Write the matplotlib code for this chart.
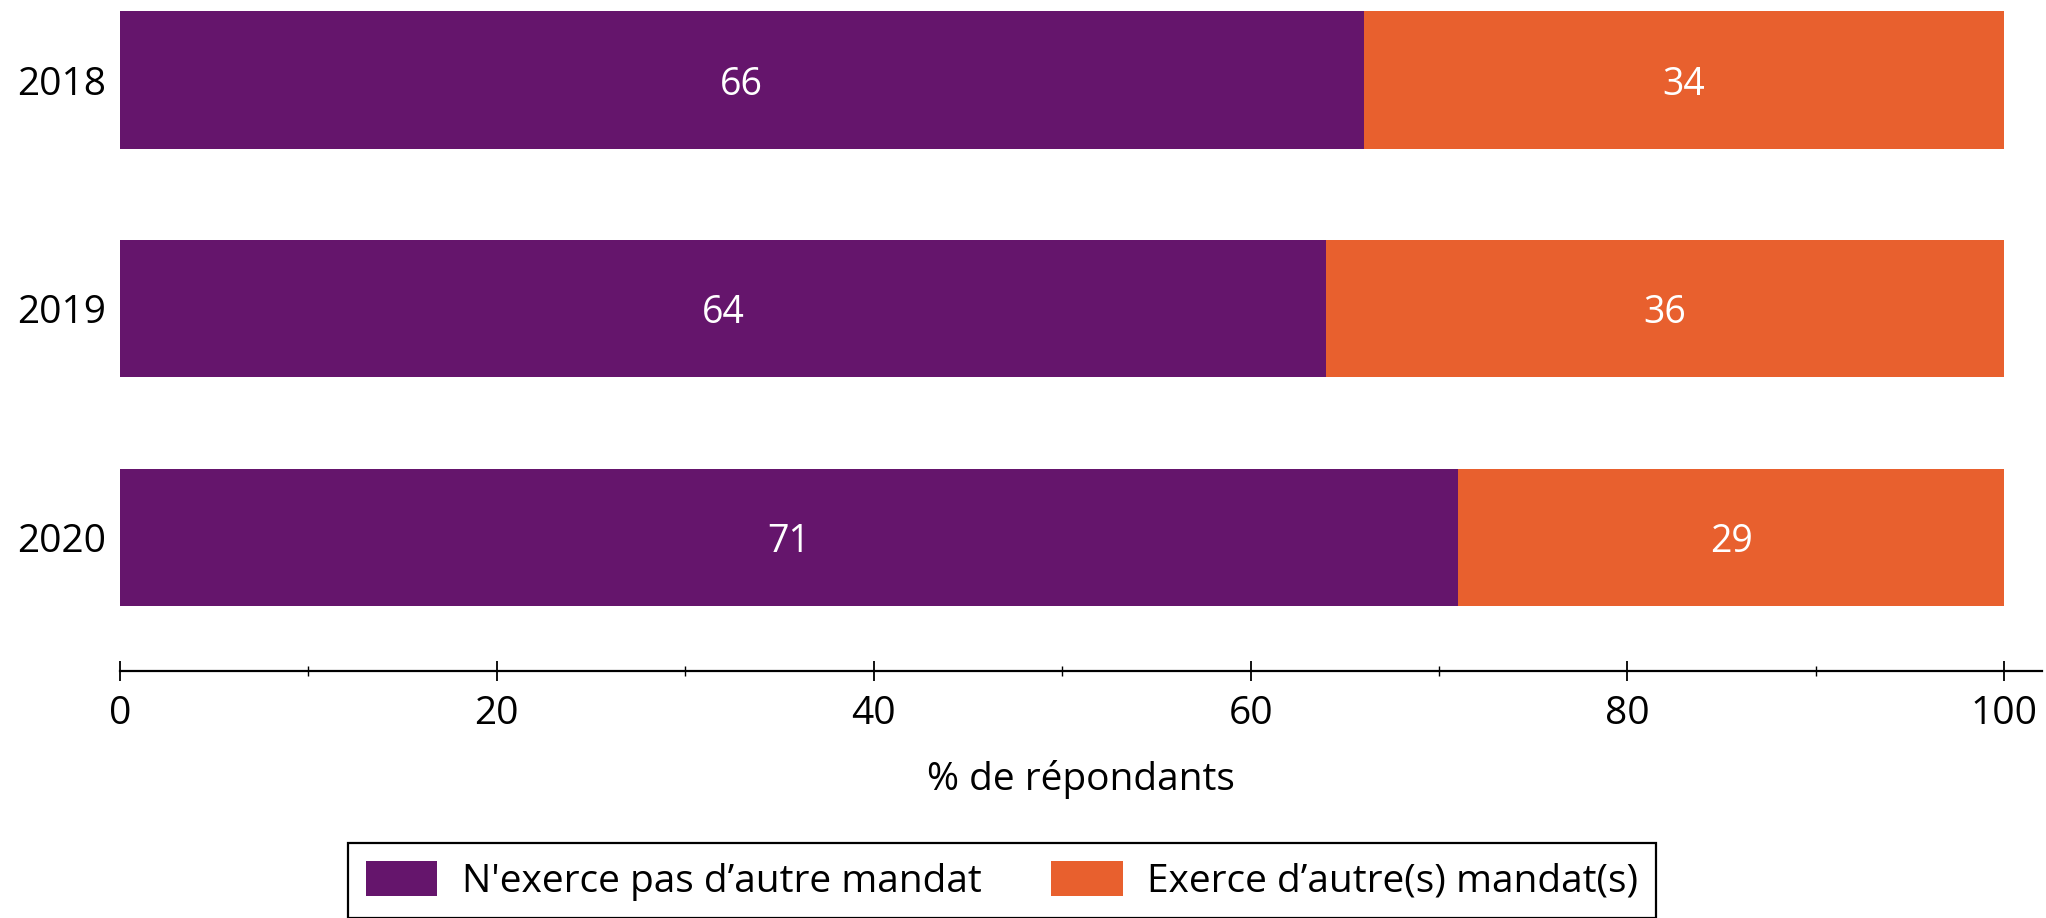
import matplotlib
matplotlib.use("Agg")
import matplotlib.pyplot as plt
from matplotlib.ticker import MultipleLocator
from matplotlib.patches import Patch

plt.rcParams["font.family"] = ["Open Sans", "DejaVu Sans"]

years = ["2018", "2019", "2020"]
sans_autre = [66, 64, 71]
avec_autre = [34, 36, 29]
series_labels = ["N'exerce pas d\u2019autre mandat", "Exerce d\u2019autre(s) mandat(s)"]
colors = ["#65156C", "#E8602E"]
x_ticks = [0, 20, 40, 60, 80, 100]

FS = 28

fig = plt.figure(figsize=(20.46, 9.18), dpi=100)
ax = fig.add_axes([120 / 2046, 1 - 671 / 918, (2042 - 120) / 2046, 671 / 918])

pos = list(range(len(years)))
bar_h = 0.6
b1 = ax.barh(pos, sans_autre, height=bar_h, color=colors[0], label=series_labels[0])
b2 = ax.barh(pos, avec_autre, left=sans_autre, height=bar_h, color=colors[1],
             label=series_labels[1])

for bars in (b1, b2):
    for rect, val in zip(bars, bars.datavalues):
        ax.text(rect.get_x() + rect.get_width() / 2, rect.get_y() + rect.get_height() / 2,
                f"{val:g}", ha="center", va="center_baseline", color="white",
                fontsize=FS - 1)

ax.set_xlim(0, 102)
ax.set_ylim(2.583, -0.35)
ax.set_yticks(pos)
ax.set_yticklabels(years)
ax.set_xticks(x_ticks)
ax.xaxis.set_minor_locator(MultipleLocator(10))

for s in ("top", "right", "left"):
    ax.spines[s].set_visible(False)
ax.spines["bottom"].set_linewidth(1.6)
ax.tick_params(axis="y", length=0, pad=10, labelsize=FS)
ax.tick_params(axis="x", which="major", direction="inout", length=14, width=1.3,
               pad=10, labelsize=FS)
ax.tick_params(axis="x", which="minor", direction="inout", length=7, width=1.0)
ax.set_xlabel("% de r\u00e9pondants", fontsize=FS, labelpad=20)

handles = [Patch(facecolor=c, edgecolor="none") for c in colors]
leg = fig.legend(handles, series_labels, loc="upper left",
                 bbox_to_anchor=(348 / 2046, 1 - 843 / 918), ncol=2, fontsize=FS,
                 frameon=True, fancybox=False, borderpad=0.45, borderaxespad=0,
                 handlelength=1.85, handleheight=1.03, handletextpad=0.62,
                 columnspacing=1.8)
frame = leg.get_frame()
frame.set_edgecolor("black")
frame.set_linewidth(1.6)
frame.set_alpha(1)

fig.savefig("out.png", dpi=100)
